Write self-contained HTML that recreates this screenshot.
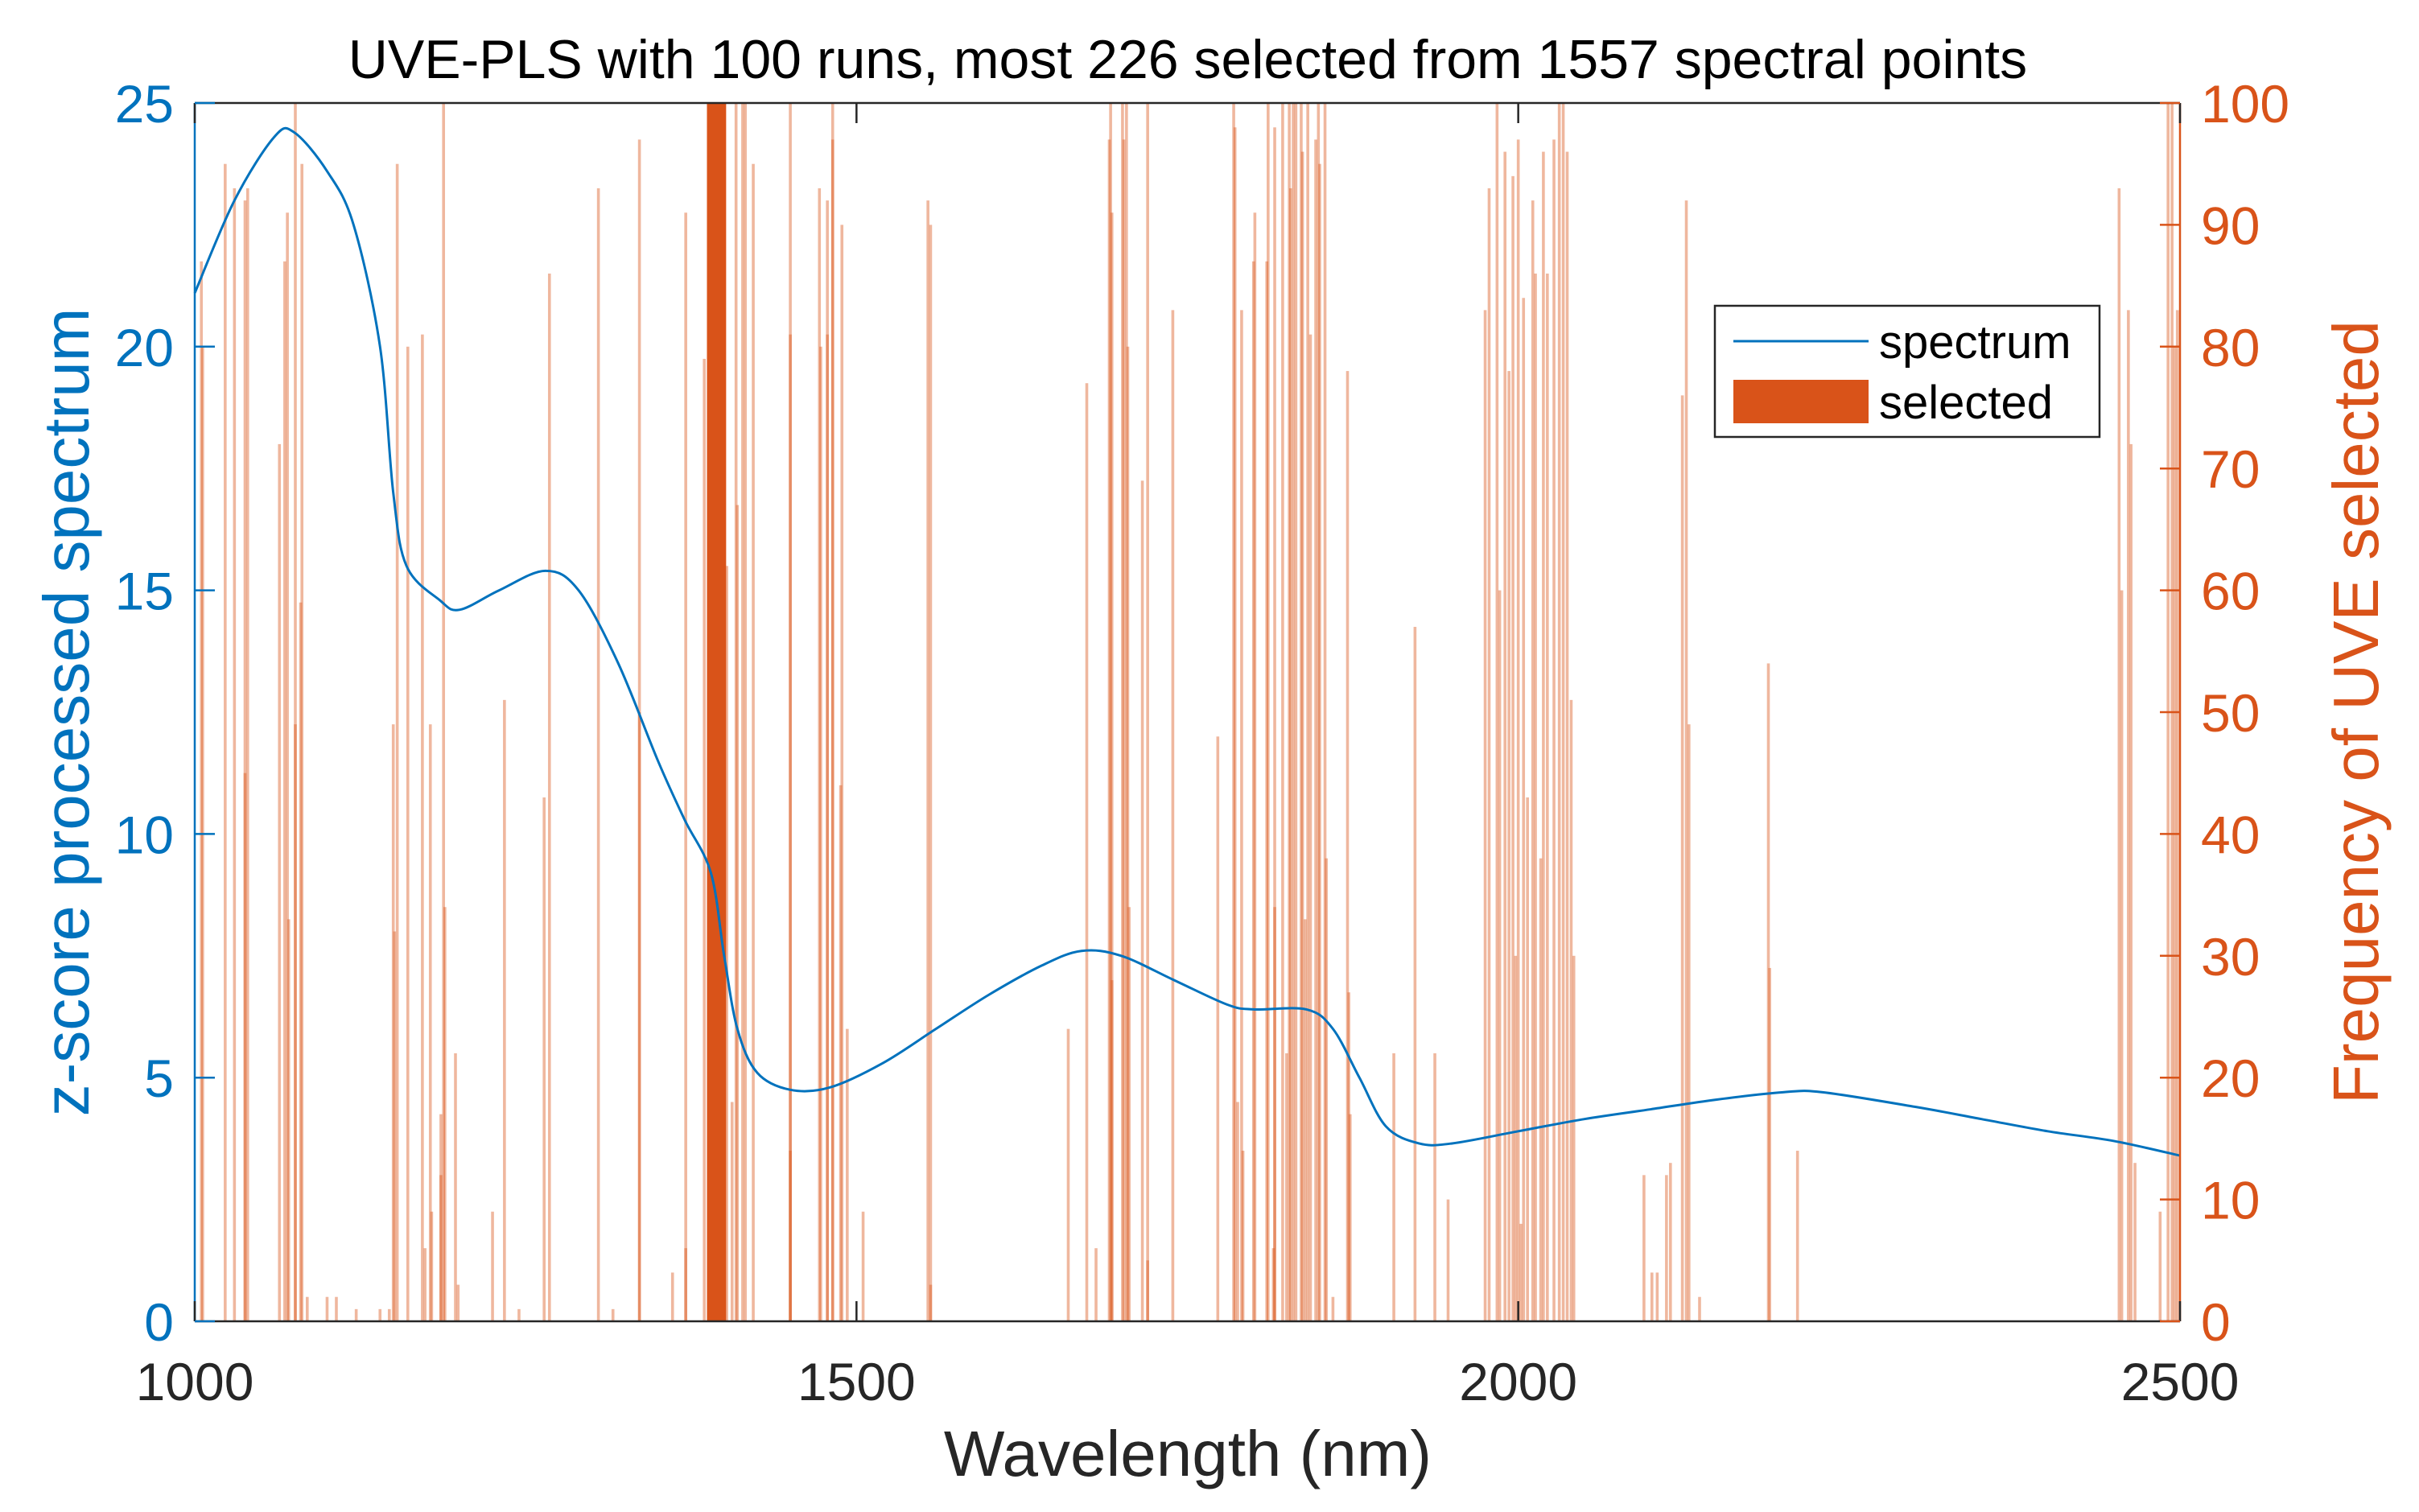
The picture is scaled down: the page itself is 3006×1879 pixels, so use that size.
<!DOCTYPE html>
<html><head><meta charset="utf-8"><title>UVE-PLS chart</title>
<style>html,body{margin:0;padding:0;background:#fff;}svg{display:block;}</style></head>
<body>
<svg id="chart" xmlns="http://www.w3.org/2000/svg" width="3006" height="1879" viewBox="0 0 3006 1879" font-family="'Liberation Sans', Arial, sans-serif">
<rect x="0" y="0" width="3006" height="1879" fill="#fff"/>
<g id="bars"></g>
<g id="band"></g>
<g id="line"></g>
<g id="axes"></g>
<text x="1476" y="97" font-size="68" text-anchor="middle" fill="#000">UVE-PLS with 100 runs, most 226 selected from 1557 spectral points</text>
<text x="1476" y="1834" font-size="80" text-anchor="middle" fill="#262626">Wavelength (nm)</text>
<text transform="translate(110,885) rotate(-90)" font-size="80" text-anchor="middle" fill="#0072BD">z-score processed spectrum</text>
<text transform="translate(2955,885) rotate(-90)" font-size="80" text-anchor="middle" fill="#D95319">Frequency of UVE selected</text>
<g>
<rect x="2131" y="380" width="478" height="163" fill="#fff" stroke="#262626" stroke-width="2.5"/>
<line x1="2154" y1="424" x2="2322" y2="424" stroke="#0072BD" stroke-width="3"/>
<text x="2335" y="445" font-size="58" fill="#000">spectrum</text>
<rect x="2154" y="472" width="168" height="54" fill="#D95319"/>
<text x="2335" y="520" font-size="58" fill="#000">selected</text>
</g>
</svg>
<script>
// spectrum data
const specWave = [1000,1030,1060,1075,1100,1120,1140,1150,1160,1185,1200,1230,1265,1290,1320,1350,1370,1390,1400,1410,1425,1450,1480,1520,1560,1600,1640,1670,1700,1740,1780,1800,1840,1860,1880,1900,1925,1950,2000,2050,2100,2150,2200,2230,2300,2350,2400,2450,2500];
const specVal  = [21.1,23.0,24.3,24.4,23.6,22.5,20.0,17.0,15.5,14.8,14.6,15.0,15.4,15.0,13.5,11.5,10.3,9.2,7.5,6.0,5.1,4.75,4.8,5.3,6.0,6.7,7.3,7.6,7.5,7.0,6.5,6.4,6.4,6.0,5.0,4.0,3.65,3.65,3.9,4.15,4.35,4.55,4.7,4.7,4.4,4.15,3.9,3.7,3.4];
// selection frequency bars
const barWave = [1005,1006,1023,1030,1038,1038,1040,1064,1068,1070,1071,1076,1076,1080,1081,1085,1100,1107,1122,1140,1147,1150,1151,1153,1161,1172,1174,1178,1179,1186,1186,1188,1189,1197,1199,1225,1234,1245,1264,1268,1305,1316,1336,1336,1361,1371,1371,1385,1402,1406,1409,1410,1414,1416,1422,1450,1450,1450,1472,1473,1478,1478,1482,1482,1489,1488,1493,1505,1554,1556,1556,1660,1674,1681,1691,1692,1693,1693,1701,1702,1704,1705,1706,1716,1720,1720,1739,1773,1785,1786,1788,1791,1792,1800,1801,1810,1811,1816,1816,1815,1822,1825,1827,1828,1830,1832,1836,1837,1839,1841,1843,1847,1849,1850,1854,1855,1860,1871,1872,1873,1906,1922,1937,1947,1975,1978,1984,1986,1990,1993,1996,1998,2000,2002,2004,2007,2011,2013,2017,2019,2022,2027,2031,2034,2037,2040,2042,2095,2101,2105,2112,2115,2124,2127,2129,2137,2189,2190,2211,2454,2456,2461,2463,2466,2485,2491,2494,2496,2498];
const barFreq = [87,80,95,93,92,45,93,72,87,91,33,100,49,59,95,2,2,2,1,1,1,49,32,95,80,81,6,49,9,17,12,100,34,22,3,9,51,1,43,86,93,1,97,50,4,91,6,79,62,18,100,67,100,100,95,100,81,14,93,80,92,81,97,100,90,44,24,9,92,90,3,24,77,6,97,100,91,28,100,97,100,80,34,69,100,5,83,48,100,98,18,83,14,87,91,87,100,98,34,6,100,22,100,93,100,100,100,96,33,100,81,97,100,95,100,38,2,78,27,17,22,57,22,10,83,93,100,60,96,78,94,30,97,8,84,43,92,86,38,96,86,97,100,100,96,51,30,12,4,4,12,13,76,92,49,2,54,29,14,93,60,83,72,13,9,100,100,80,83];
// dense band of selected points
const bandStart = 1387, bandEnd = 1401.5, bandFreq = 100;
const leftTicks = [0,5,10,15,20,25];
const rightTicks = [0,10,20,30,40,50,60,70,80,90,100];
const xTicks = [1000,1500,2000,2500];

(function(){
const NS = 'http://www.w3.org/2000/svg';
const L = 242, R = 2709, T = 128, B = 1642;
const X = w => L + (w - 1000) / 1500 * (R - L);
const YL = v => B - v / 25 * (B - T);
const YR = v => B - v / 100 * (B - T);
function mk(tag, attrs, parent){ const e = document.createElementNS(NS, tag); for (const k in attrs) e.setAttribute(k, attrs[k]); parent.appendChild(e); return e; }

const gBars = document.getElementById('bars');
barWave.forEach((w, i) => {
  const r = mk('rect', {x: X(w) - 1.8, y: YR(barFreq[i]), width: 3.6, height: B - YR(barFreq[i]), fill: '#D95319', 'fill-opacity': 0.42}, gBars);
  
  
});
const gBand = document.getElementById('band');
const band = mk('rect', {x: X(bandStart), y: YR(bandFreq), width: X(bandEnd) - X(bandStart), height: B - YR(bandFreq), fill: '#D95319'}, gBand);



const pts = specWave.map((w, i) => [X(w), YL(specVal[i])]);
let d = 'M' + pts[0][0] + ',' + pts[0][1];
for (let i = 0; i < pts.length - 1; i++) {
  const p0 = pts[Math.max(0, i - 1)], p1 = pts[i], p2 = pts[i + 1], p3 = pts[Math.min(pts.length - 1, i + 2)];
  const c1 = [p1[0] + (p2[0] - p0[0]) / 6, p1[1] + (p2[1] - p0[1]) / 6];
  const c2 = [p2[0] - (p3[0] - p1[0]) / 6, p2[1] - (p3[1] - p1[1]) / 6];
  d += ' C' + c1[0] + ',' + c1[1] + ' ' + c2[0] + ',' + c2[1] + ' ' + p2[0] + ',' + p2[1];
}
const line = mk('path', {d: d, fill: 'none', stroke: '#0072BD', 'stroke-width': 3}, document.getElementById('line'));



const gA = document.getElementById('axes');
const topAx = mk('line', {x1: L, y1: T, x2: R, y2: T, stroke: '#262626', 'stroke-width': 2.5}, gA);


const botAx = mk('line', {x1: L, y1: B, x2: R, y2: B, stroke: '#262626', 'stroke-width': 2.5}, gA);


const la = mk('line', {x1: L, y1: T, x2: L, y2: B, stroke: '#0072BD', 'stroke-width': 2.5}, gA);


const ra = mk('line', {x1: R, y1: T, x2: R, y2: B, stroke: '#D95319', 'stroke-width': 2.5}, gA);



xTicks.forEach(t => {
  const x = X(t);
  const a = mk('line', {x1: x, y1: B, x2: x, y2: B - 25, stroke: '#262626', 'stroke-width': 2.5}, gA);
  
  
  const b = mk('line', {x1: x, y1: T, x2: x, y2: T + 25, stroke: '#262626', 'stroke-width': 2.5}, gA);
  
  
  const tx = mk('text', {x: x, y: 1740, 'font-size': 66, 'text-anchor': 'middle', fill: '#262626'}, gA);
  tx.textContent = t;
  
  
});
leftTicks.forEach(t => {
  const y = YL(t);
  const a = mk('line', {x1: L, y1: y, x2: L + 25, y2: y, stroke: '#0072BD', 'stroke-width': 2.5}, gA);
  
  
  const tx = mk('text', {x: 216, y: y + 24, 'font-size': 66, 'text-anchor': 'end', fill: '#0072BD'}, gA);
  tx.textContent = t;
  
  
});
rightTicks.forEach(t => {
  const y = YR(t);
  const a = mk('line', {x1: R, y1: y, x2: R - 25, y2: y, stroke: '#D95319', 'stroke-width': 2.5}, gA);
  
  
  const tx = mk('text', {x: 2735, y: y + 24, 'font-size': 66, 'text-anchor': 'start', fill: '#D95319'}, gA);
  tx.textContent = t;
  
  
});
})();
</script>
</body></html>
